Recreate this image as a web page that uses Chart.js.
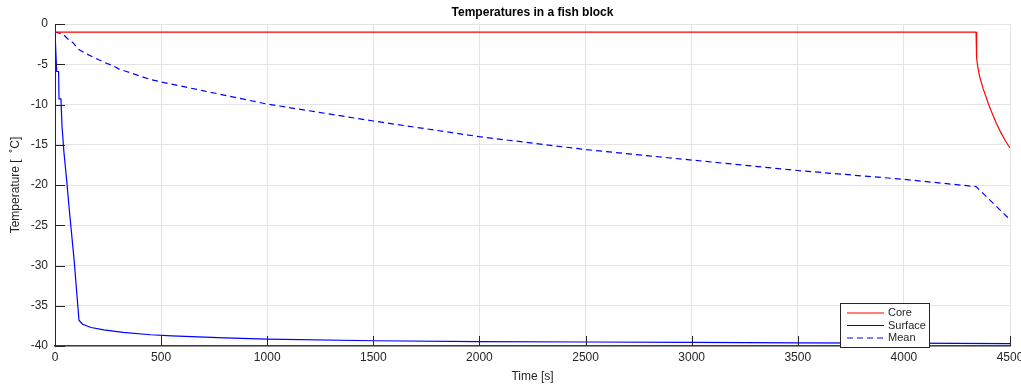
<!DOCTYPE html>
<html>
<head>
<meta charset="utf-8">
<script src="https://cdn.jsdelivr.net/npm/chart.js@4"></script>
<style>
html,body{margin:0;padding:0;background:#fff;}
#wrap{position:relative;width:1021px;height:385px;}
</style>
</head>
<body>
<div id="wrap"><canvas id="c" width="1021" height="385"></canvas></div>
<script>
// ---- data ----
const coreTime = [0, 4340, 4341, 4344, 4348, 4355, 4362, 4373, 4385, 4398, 4410, 4422, 4435, 4446, 4457, 4468, 4480, 4490, 4500];
const coreTemp = [-1, -1, -2.6, -4.2, -5.3, -6.3, -7.0, -8.0, -8.9, -9.9, -10.7, -11.5, -12.3, -12.9, -13.5, -14.0, -14.6, -15.0, -15.4];

const surfaceTime = [0, 3, 8, 17, 19, 28, 33, 42, 55, 66, 90, 113, 130, 170, 230, 320, 450, 550, 800, 1000, 1500, 2000, 2500, 3000, 3500, 4000, 4500];
const surfaceTemp = [-1, -1, -5.9, -5.9, -9.3, -9.3, -12.7, -15.9, -19.4, -22.7, -29.3, -36.8, -37.3, -37.7, -38.0, -38.3, -38.6, -38.75, -39.0, -39.15, -39.35, -39.45, -39.5, -39.55, -39.6, -39.65, -39.7];

const meanTime = [0, 38, 58, 88, 108, 140, 235, 275, 302, 337, 450, 500, 700, 1000, 1500, 2000, 2500, 3000, 3500, 4000, 4340, 4500];
const meanTemp = [-1, -1.25, -1.8, -2.4, -3.1, -3.6, -4.8, -5.2, -5.6, -5.9, -6.9, -7.2, -8.3, -9.95, -12.05, -14.0, -15.6, -16.9, -18.2, -19.3, -20.2, -24.3];

const xTicks = [0, 500, 1000, 1500, 2000, 2500, 3000, 3500, 4000, 4500];
const yTicks = [0, -5, -10, -15, -20, -25, -30, -35, -40];

const seriesNames = ['Core', 'Surface', 'Mean'];
const titleText = 'Temperatures in a fish block';
const xTitle = 'Time [s]';
const yTitle = 'Temperature [  \u02DAC]';

function pts(t, v){ return t.map((x,i)=>({x:x, y:v[i]})); }

const FONT = '"Liberation Sans", Arial, Helvetica, sans-serif';
const TXT = '#262626';

const decor = {
  id: 'decor',
  afterDraw(chart){
    const ctx = chart.ctx, a = chart.chartArea;
    const xs = chart.scales.x, ys = chart.scales.y;
    ctx.save();
    // inward ticks
    ctx.strokeStyle = '#262626';
    ctx.lineWidth = 1;
    ctx.beginPath();
    ys.ticks.forEach(t=>{
      const y = Math.round(ys.getPixelForValue(t.value)) + 0.5;
      ctx.moveTo(a.left, y); ctx.lineTo(a.left + 10, y);
    });
    xs.ticks.forEach(t=>{
      const x = Math.round(xs.getPixelForValue(t.value)) + 0.5;
      ctx.moveTo(x, a.bottom); ctx.lineTo(x, a.bottom - 10);
    });
    ctx.stroke();
    // titles
    ctx.fillStyle = '#000';
    ctx.font = 'bold 12px ' + FONT;
    ctx.textAlign = 'center'; ctx.textBaseline = 'middle';
    ctx.fillText(titleText, (a.left + a.right)/2, 13);
    ctx.fillStyle = TXT;
    ctx.font = '12px ' + FONT;
    ctx.fillText(xTitle, (a.left + a.right)/2, 377);
    ctx.save();
    ctx.translate(16, (a.top + a.bottom)/2);
    ctx.rotate(-Math.PI/2);
    ctx.fillText(yTitle, 0, 0);
    ctx.restore();
    // legend
    const lx = a.right - 170, ly = a.bottom - 43, lw = 89, lh = 44;
    ctx.fillStyle = '#fff';
    ctx.fillRect(lx, ly, lw, lh);
    ctx.strokeStyle = '#262626';
    ctx.lineWidth = 1;
    ctx.strokeRect(lx + 0.5, ly + 0.5, lw, lh);
    ctx.font = '11px ' + FONT;
    ctx.textAlign = 'left';
    chart.data.datasets.forEach((ds, i)=>{
      const yy = ly + 10 + i * 12.5;
      ctx.strokeStyle = ds.borderColor;
      ctx.lineWidth = 1.2;
      ctx.setLineDash(ds.borderDash || []);
      ctx.beginPath(); ctx.moveTo(lx + 7, yy); ctx.lineTo(lx + 44, yy); ctx.stroke();
      ctx.setLineDash([]);
      ctx.fillStyle = TXT;
      ctx.fillText(ds.label, lx + 48, yy);
    });
    ctx.restore();
  }
};

new Chart(document.getElementById('c'), {
  type: 'line',
  data: {
    datasets: [
      {label: seriesNames[0], data: pts(coreTime, coreTemp), borderColor: '#ff0000', borderWidth: 1.2},
      {label: seriesNames[1], data: pts(surfaceTime, surfaceTemp), borderColor: '#0000ff', borderWidth: 1.2},
      {label: seriesNames[2], data: pts(meanTime, meanTemp), borderColor: '#0000ff', borderWidth: 1.2, borderDash: [6,4]}
    ]
  },
  options: {
    responsive: false,
    animation: false,
    parsing: false,
    elements: { point: { radius: 0 }, line: { tension: 0, fill: false } },
    layout: { padding: { top: 24, right: 11, left: 0, bottom: 0 } },
    plugins: { legend: { display: false }, title: { display: false }, tooltip: { enabled: false } },
    scales: {
      x: {
        type: 'linear', min: 0, max: 4500,
        afterFit(s){ s.height = 39; s.paddingLeft = 0; s.paddingRight = 0; },
        afterBuildTicks(s){ s.ticks = xTicks.map(v=>({value:v})); },
        ticks: { color: TXT, font: { size: 12, family: FONT }, padding: 4, maxRotation: 0, callback: v => String(v) },
        grid: { color: '#e3e3e3', lineWidth: 1, drawTicks: false },
        border: { display: true, color: '#404040', width: 1.5 }
      },
      y: {
        type: 'linear', min: -40, max: 0,
        afterFit(s){ s.width = 55; s.paddingTop = 0; s.paddingBottom = 0; },
        afterBuildTicks(s){ s.ticks = yTicks.map(v=>({value:v})); },
        ticks: { color: TXT, font: { size: 12, family: FONT }, padding: 7, callback: v => String(v) },
        grid: { color: '#e3e3e3', lineWidth: 1, drawTicks: false },
        border: { display: true, color: '#262626', width: 1 }
      }
    }
  },
  plugins: [decor]
});
</script>
</body>
</html>
